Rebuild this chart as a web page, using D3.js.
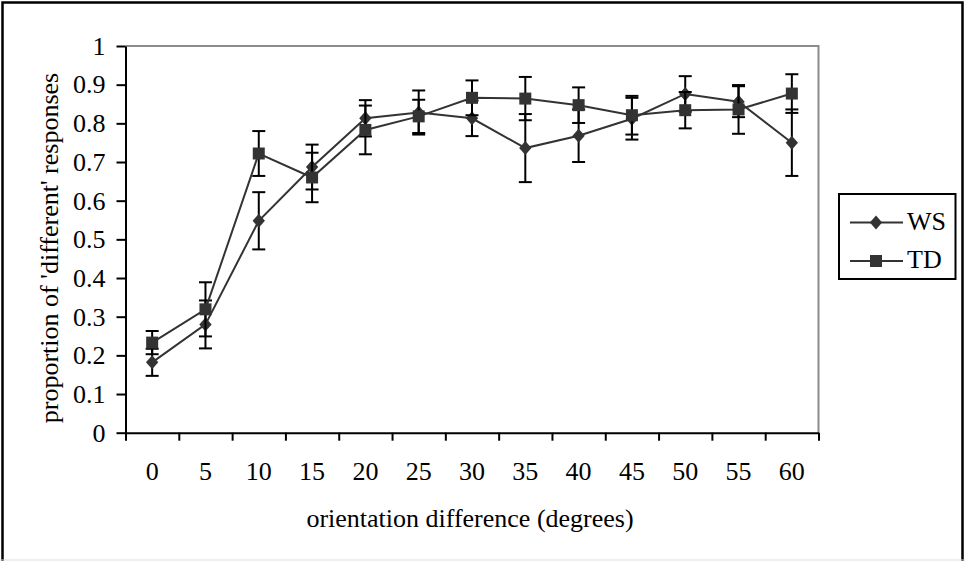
<!DOCTYPE html>
<html>
<head>
<meta charset="utf-8">
<script src="https://cdn.jsdelivr.net/npm/d3@7"></script>
<style>
  html, body { margin: 0; padding: 0; background: #fff; }
  svg { display: block; }
  text { font-family: "Liberation Serif", "Times New Roman", serif; fill: #000; }
</style>
</head>
<body>
<svg id="chart" width="965" height="561"></svg>
<script>
// ---- data ----
const categories = ["0","5","10","15","20","25","30","35","40","45","50","55","60"];
const wsValues = [0.182, 0.280, 0.548, 0.687, 0.813, 0.828, 0.813, 0.736, 0.768, 0.812, 0.876, 0.856, 0.750];
const wsErrors = [0.035, 0.062, 0.074, 0.058, 0.047, 0.057, 0.046, 0.088, 0.068, 0.054, 0.046, 0.040, 0.086];
const tdValues = [0.233, 0.319, 0.722, 0.660, 0.783, 0.818, 0.866, 0.864, 0.847, 0.821, 0.834, 0.836, 0.877];
const tdErrors = [0.030, 0.070, 0.058, 0.064, 0.063, 0.043, 0.045, 0.056, 0.046, 0.050, 0.047, 0.063, 0.050];
const yTicks = [0, 0.1, 0.2, 0.3, 0.4, 0.5, 0.6, 0.7, 0.8, 0.9, 1];
const seriesNames = ["WS", "TD"];
const xTitle = "orientation difference (degrees)";
const yTitle = "proportion of 'different' responses";

(function () {
const svg = d3.select("#chart");
const W = 965, H = 561;
const pLeft = 125.5, pRight = 818.5, pTop = 46, pBottom = 432.7;

// outer frame
svg.append("path").attr("d", `M2.5,${H} L2.5,2.5 L962.5,2.5 L962.5,${H}`)
  .attr("fill", "none").attr("stroke", "#000").attr("stroke-width", 2.5);
svg.append("line").attr("x1", 0).attr("x2", W).attr("y1", 560).attr("y2", 560)
  .attr("stroke", "#ddd").attr("stroke-width", 1);

const x = d3.scaleBand().domain(categories).range([pLeft, pRight]).paddingInner(0).paddingOuter(0);
const xEdge = d3.scaleLinear().domain([0, categories.length]).range([pLeft, pRight]);
const y = d3.scaleLinear().domain([0, 1]).range([pBottom, pTop]);

// plot area top/right gray border
svg.append("path").attr("d", `M${pLeft},${pTop} L${pRight},${pTop} L${pRight},${pBottom}`)
  .attr("fill", "none").attr("stroke", "#8c8c8c").attr("stroke-width", 2);

// y axis
const yAxis = svg.append("g").attr("transform", `translate(${pLeft},0)`)
  .call(d3.axisLeft(y).tickValues(yTicks).tickFormat(d => d === 0 ? "0" : d === 1 ? "1" : d3.format(".1f")(d))
    .tickSize(9).tickSizeOuter(0).tickPadding(11));
yAxis.selectAll("path, line").attr("stroke", "#000").attr("stroke-width", 2);
yAxis.selectAll("text").style("font-family", '"Liberation Serif", serif').style("font-size", "26px").attr("fill", "#000");

// x axis ticks at category edges
const xTickAxis = svg.append("g").attr("transform", `translate(0,${pBottom})`)
  .call(d3.axisBottom(xEdge).tickValues(d3.range(categories.length + 1)).tickFormat("").tickSize(8).tickSizeOuter(0));
xTickAxis.selectAll("path, line").attr("stroke", "#000").attr("stroke-width", 2);

// x labels at band centres
const xLabelAxis = svg.append("g").attr("transform", `translate(0,${pBottom})`)
  .call(d3.axisBottom(x).tickSize(0).tickPadding(29));
xLabelAxis.select(".domain").remove();
xLabelAxis.selectAll("text").style("font-family", '"Liberation Serif", serif').style("font-size", "26px").attr("fill", "#000");

// titles
svg.append("text").attr("x", 470).attr("y", 527).attr("text-anchor", "middle")
  .style("font-size", "26px").text(xTitle);
svg.append("text").attr("transform", "translate(58,248) rotate(-90)").attr("text-anchor", "middle")
  .style("font-size", "26px").text(yTitle);

// custom diamond symbol
const diamondType = {
  draw(ctx, size) {
    const h = Math.sqrt(size) / 2;
    const w = h * 0.88;
    ctx.moveTo(0, -h); ctx.lineTo(w, 0); ctx.lineTo(0, h); ctx.lineTo(-w, 0); ctx.closePath();
  }
};
const diamond = d3.symbol().type(diamondType).size(196);
const square = d3.symbol().type(d3.symbolSquare).size(144);

const color = "#333";
const cx = d => x(d) + x.bandwidth() / 2;

function drawSeries(values, errors, sym) {
  const g = svg.append("g");
  const eb = g.append("g").selectAll("g").data(categories).join("g");
  eb.append("line").attr("x1", d => cx(d)).attr("x2", d => cx(d))
    .attr("y1", (d, i) => y(values[i] + errors[i])).attr("y2", (d, i) => y(values[i] - errors[i]))
    .attr("stroke", "#000").attr("stroke-width", 2);
  eb.append("line").attr("x1", d => cx(d) - 6.5).attr("x2", d => cx(d) + 6.5)
    .attr("y1", (d, i) => y(values[i] + errors[i])).attr("y2", (d, i) => y(values[i] + errors[i]))
    .attr("stroke", "#000").attr("stroke-width", 2);
  eb.append("line").attr("x1", d => cx(d) - 6.5).attr("x2", d => cx(d) + 6.5)
    .attr("y1", (d, i) => y(values[i] - errors[i])).attr("y2", (d, i) => y(values[i] - errors[i]))
    .attr("stroke", "#000").attr("stroke-width", 2);
  const line = d3.line().x((d, i) => cx(categories[i])).y(d => y(d));
  g.append("path").datum(values).attr("d", line).attr("fill", "none").attr("stroke", color).attr("stroke-width", 2);
  g.append("g").selectAll("path").data(values).join("path")
    .attr("transform", (d, i) => `translate(${cx(categories[i])},${y(d)})`)
    .attr("d", sym).attr("fill", color);
}
drawSeries(wsValues, wsErrors, diamond);
drawSeries(tdValues, tdErrors, square);

// legend
const lg = svg.append("g");
lg.append("rect").attr("x", 839).attr("y", 194).attr("width", 116.5).attr("height", 85)
  .attr("fill", "#fff").attr("stroke", "#000").attr("stroke-width", 2);
const legendYs = [222.5, 261];
const syms = [diamond, square];
seriesNames.forEach((name, i) => {
  lg.append("line").attr("x1", 850).attr("x2", 903).attr("y1", legendYs[i]).attr("y2", legendYs[i])
    .attr("stroke", color).attr("stroke-width", 2);
  lg.append("path").attr("transform", `translate(876,${legendYs[i]})`).attr("d", syms[i]).attr("fill", color);
  lg.append("text").attr("x", 907).attr("y", legendYs[i] + 7).style("font-size", "26px").text(name);
});
})();
</script>
</body>
</html>
